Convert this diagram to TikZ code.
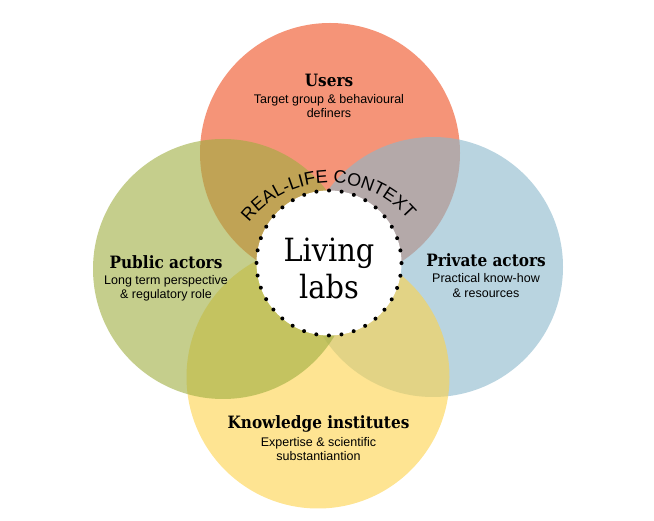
\documentclass[tikz,border=0pt]{standalone}
\usepackage{fontspec}
\setmainfont{Liberation Sans}
\newfontfamily\slab[FakeStretch=0.9]{DejaVu Serif}
\usepackage{tikz}
\usetikzlibrary{positioning,decorations.text}
\definecolor{userc}{RGB}{238,77,30}
\definecolor{pubc}{RGB}{158,173,63}
\definecolor{privc}{RGB}{138,183,203}
\definecolor{knowc}{RGB}{253,210,73}

\begin{document}
\begin{tikzpicture}[x=1pt,y=1pt,
	blob/.style={circle,inner sep=0pt,minimum size=260pt,fill opacity=0.6},
	hub/.style={circle,inner sep=0pt,minimum size=145pt,fill=white,draw=black,line width=4pt,line cap=round,dash pattern=on 0pt off 12.65pt},
	head/.style={font=\slab\bfseries\fontsize{17}{20}\selectfont,inner sep=0pt,anchor=base},
	sub/.style={font=\fontsize{12.5}{14.5}\selectfont,align=center,inner sep=0pt}]
	\useasboundingbox (0,0) rectangle (654,520);
	% circles, back to front
	\node[blob,fill=userc] (users) at (330,367) {};
	\node[blob,fill=privc] (priv) at (433,253) {};
	\node[blob,fill=knowc,minimum size=263pt] (know) at (318,143) {};
	\node[blob,fill=pubc] (pub) at (223,251) {};
	
	% centre
	\node[hub] (hub) at (329,257) {};
	\node[font=\slab\fontsize{32}{36.6}\selectfont,align=center,inner sep=0pt,anchor=base] (living) at (329,221.7) {Living\\labs};
	\coordinate (ctx) at (330,234);
	\path[decorate,decoration={text along path,text align=center,
		text={|\fontsize{18}{18}\selectfont|REAL-LIFE CONTEXT}}]
		([shift={(142.5:103)}]ctx) arc[start angle=142.5,end angle=39.7,radius=103];
	
	% labels
	\node[head] (userst) at (329,433.3) {Users};
	\node[sub,below=31pt of userst.base,anchor=base] (userss) {Target group \& behavioural\\definers};
	\node[head] (pubt) at (166,251.7) {Public actors};
	\node[sub,below=30.7pt of pubt.base,anchor=base] (pubs) {Long term perspective\\\& regulatory role};
	\node[head] (privt) at (486,253.3) {Private actors};
	\node[sub,below=30.6pt of privt.base,anchor=base] (privs) {Practical know-how\\\& resources};
	\node[head] (knowt) at (318.5,91.7) {Knowledge institutes};
	\node[sub,below=32.4pt of knowt.base,anchor=base] (knows) {Expertise \& scientific\\substantiantion};
\end{tikzpicture}
\end{document}
